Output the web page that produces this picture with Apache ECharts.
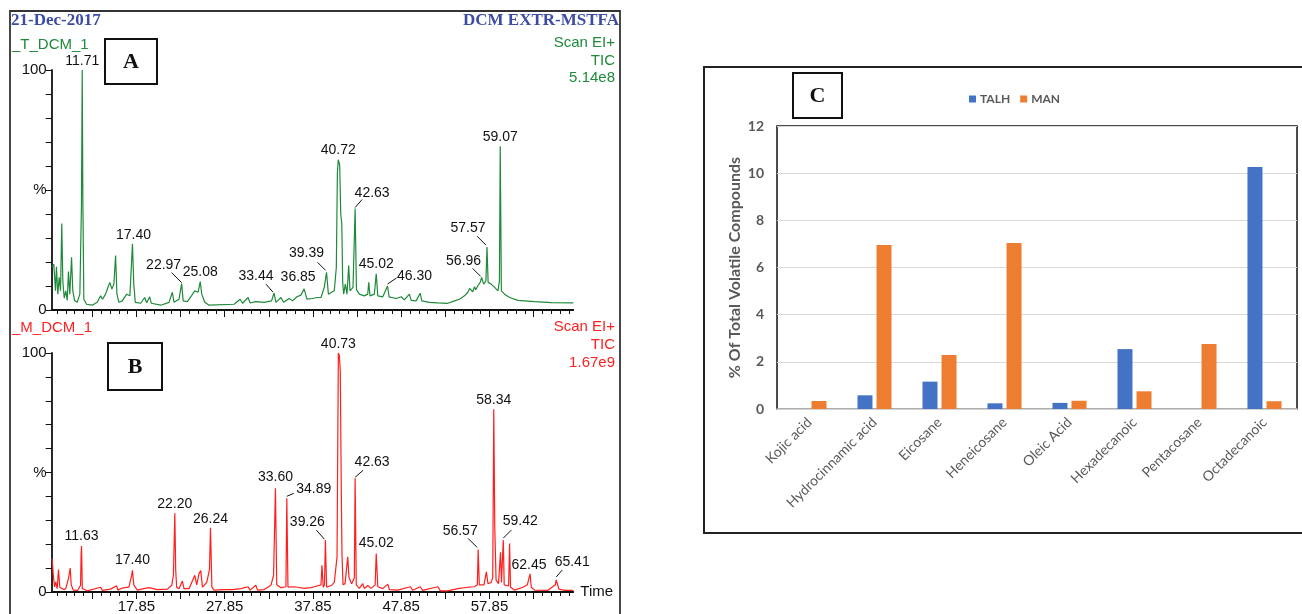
<!DOCTYPE html>
<html>
<head>
<meta charset="utf-8">
<title>GC-MS chromatograms and volatile compounds</title>
<script src="https://cdn.jsdelivr.net/npm/echarts@6/dist/echarts.min.js"></script>
<style>
  html, body { margin: 0; padding: 0; background: #fff; }
  #chart { width: 1302px; height: 614px; }
</style>
</head>
<body>
<div id="chart"></div>
<script>
// chromatogram A (TALH extract), retention time (min) / relative intensity (%)
const timeA = [8.30, 8.49, 8.68, 8.79, 8.94, 9.10, 9.25, 9.39, 9.51, 9.67, 9.85, 10.01, 10.15, 10.30, 10.50, 10.64, 10.84, 11.14, 11.44, 11.62, 11.71, 11.78, 11.89, 12.20, 12.84, 13.41, 13.79, 14.01, 14.35, 14.62, 14.84, 15.07, 15.30, 15.49, 15.64, 15.86, 16.25, 16.74, 17.11, 17.30, 17.40, 17.55, 17.72, 18.33, 18.78, 19.01, 19.35, 19.54, 20.60, 21.54, 21.92, 22.11, 22.68, 22.97, 23.15, 23.62, 24.08, 24.46, 24.84, 25.08, 25.25, 25.59, 26.08, 28.92, 29.60, 29.87, 30.51, 30.73, 31.38, 32.32, 33.16, 33.44, 33.66, 34.22, 34.52, 35.16, 35.55, 36.03, 36.49, 36.85, 37.17, 37.82, 38.30, 38.76, 39.13, 39.39, 39.60, 39.97, 40.27, 40.50, 40.62, 40.72, 40.88, 41.00, 41.12, 41.22, 41.33, 41.52, 41.71, 41.90, 42.05, 42.39, 42.63, 42.78, 43.11, 43.67, 44.06, 44.17, 44.32, 44.81, 45.02, 45.20, 45.76, 46.30, 46.48, 47.27, 47.84, 48.21, 48.78, 48.98, 49.54, 50.00, 50.19, 51.05, 52.00, 53.14, 53.89, 54.46, 55.02, 55.41, 55.60, 55.78, 55.95, 56.16, 56.30, 56.54, 56.80, 56.96, 57.20, 57.45, 57.57, 57.70, 58.05, 58.43, 58.81, 58.98, 59.07, 59.20, 59.56, 60.13, 61.08, 62.97, 64.87, 67.35];
const intensityA = [18, 19, 8, 18, 6.6, 13.6, 8, 36, 12, 5, 8, 4, 16, 6.6, 22, 8, 4, 3.2, 6.6, 43, 100, 46, 4.5, 2.4, 2, 3.2, 5.9, 4.5, 6.6, 9.4, 11.5, 8.7, 10.8, 22.7, 6.6, 3.2, 3.8, 6.6, 5.9, 20, 27.6, 10.8, 3.2, 2.8, 5.2, 3, 5.5, 2.8, 2, 3.2, 7.4, 3.2, 4.5, 11, 3.8, 3.5, 5.9, 8, 7.4, 11.8, 6.6, 3.2, 2, 2.4, 4.5, 2.8, 5.2, 2.9, 3.5, 3.2, 3.8, 7, 3.2, 5.2, 3.2, 4.8, 3.8, 5.5, 6.2, 8.8, 4.5, 4.8, 5.2, 5.2, 9.4, 15.7, 6.6, 7.4, 8, 17.8, 57, 62.6, 60.5, 40, 36, 11.5, 6.6, 10.8, 6.6, 18.5, 8, 9.4, 42.3, 8.5, 6.6, 5.9, 6.6, 11.5, 5.9, 6.6, 15.1, 5.9, 5.5, 10, 5.5, 4.8, 5.5, 4.2, 6.6, 4, 3.8, 7, 3.8, 3.2, 3, 2.8, 3.8, 4.5, 5.9, 7.4, 9, 8.7, 7.6, 9.7, 8.4, 10.1, 11.5, 13.6, 10.8, 12.2, 26.2, 11.5, 10.8, 9.4, 8, 12, 68.2, 8, 6.6, 5.2, 4, 3.5, 3.1, 3];

// chromatogram B (MAN extract)
const timeB = [8.30, 8.42, 8.57, 8.71, 8.87, 9.02, 9.17, 9.36, 9.62, 9.85, 10.15, 10.35, 10.46, 10.69, 11.21, 11.52, 11.58, 11.63, 11.72, 12.27, 13.79, 13.98, 14.92, 15.60, 15.75, 16.14, 16.51, 17.00, 17.31, 17.40, 17.55, 17.95, 18.70, 19.27, 20.22, 21.36, 21.85, 22.04, 22.20, 22.30, 22.41, 22.67, 23.06, 23.24, 23.81, 24.46, 24.68, 24.94, 25.14, 25.33, 25.82, 26.13, 26.24, 26.40, 26.65, 27.78, 28.73, 29.68, 30.51, 30.73, 31.38, 31.57, 32.32, 33.09, 33.39, 33.60, 33.75, 34.22, 34.79, 34.89, 35.02, 35.73, 36.11, 36.86, 37.63, 38.00, 38.76, 38.87, 39.02, 39.16, 39.26, 39.40, 39.97, 40.27, 40.58, 40.73, 40.84, 40.95, 41.06, 41.14, 41.26, 41.49, 41.79, 41.94, 42.24, 42.54, 42.63, 42.76, 43.11, 43.49, 43.67, 44.06, 44.43, 44.90, 45.02, 45.20, 45.76, 46.33, 46.51, 47.46, 48.89, 49.16, 50.00, 50.29, 52.00, 52.30, 53.14, 54.27, 55.41, 56.16, 56.48, 56.57, 56.70, 57.23, 57.50, 57.68, 58.05, 58.22, 58.34, 58.45, 58.60, 58.88, 59.10, 59.21, 59.42, 59.52, 60.02, 60.13, 60.24, 60.69, 61.64, 62.14, 62.45, 62.59, 62.97, 64.49, 65.32, 65.41, 65.73, 66.37, 67.35];
const intensityB = [14, 7.7, 2.1, 4.2, 1.4, 9.4, 2, 1.5, 1, 1.5, 5.6, 10, 3, 0.8, 0.7, 2.8, 15.4, 19.2, 1.5, 0.5, 2, 0.7, 1.2, 2.6, 0.8, 1.5, 1.8, 2, 7, 9.1, 3, 0.8, 1.4, 1.8, 1, 1.2, 2.8, 7, 32.9, 9.1, 2, 1.4, 4.6, 1.4, 1.4, 7, 3, 7.7, 9, 2, 4, 9.5, 26.9, 2, 0.8, 1, 1, 1.4, 2.2, 0.8, 2.8, 0.8, 1, 2.8, 7, 43.4, 3, 1.8, 2.2, 39.2, 2, 2.2, 2, 1.5, 1.8, 2.2, 3, 11.2, 2, 3, 21.7, 2, 2.8, 4, 14.7, 100, 99, 92.3, 42.7, 16.1, 3, 3.5, 14.7, 6, 3.5, 6, 47.6, 3, 1.5, 3.5, 1.5, 2.7, 1.5, 3, 16.1, 2.2, 1.4, 3.3, 1, 0.8, 2.2, 0.7, 2.2, 0.7, 2.2, 0.5, 0.5, 1.4, 2, 2.2, 3, 17.8, 3, 3, 8.4, 3.5, 4, 6, 76.5, 27.3, 5, 3.5, 16.6, 4, 21.7, 3, 2.5, 20.3, 2, 0.8, 2, 3, 7.6, 2, 0.8, 0.7, 3, 5, 1.2, 0.7, 0.7];

// labelled peaks (retention times)
const peaksA = [11.71, 17.40, 22.97, 25.08, 33.44, 36.85, 39.39, 40.72, 42.63, 45.02, 46.30, 56.96, 57.57, 59.07];
const peaksB = [11.63, 17.40, 22.20, 26.24, 33.60, 34.89, 39.26, 40.73, 42.63, 45.02, 56.57, 58.34, 59.42, 62.45, 65.41];
const timeTickLabels = [17.85, 27.85, 37.85, 47.85, 57.85];

// bar chart C
const compounds = ['Kojic acid', 'Hydrocinnamic acid', 'Eicosane', 'Heneicosane', 'Oleic Acid', 'Hexadecanoic', 'Pentacosane', 'Octadecanoic'];
const talh = [0, 0.58, 1.16, 0.24, 0.26, 2.54, 0, 10.26];
const man = [0.34, 6.95, 2.29, 7.04, 0.35, 0.75, 2.76, 0.33];

// label placement (px from peak apex): text dx, dy, then optional leader x1, y1, x2, y2
const labelPosA = [
  [0, -9], [1, -9], [-18, -18, 0, -1, -10, -11], [0, -10], [-18, -17, -1, -1, -8, -9],
  [-6, -12], [-20, -19, -1, -2, -9, -10], [0, -10], [17, -15, 0, -1, 7, -9], [0, -10],
  [27, -10, 0, -2, 9, -8], [-18, -16, -1, -1, -9, -9], [-19, -19, -1, -2, -10, -11], [0, -9]
];
const labelPosB = [
  [0, -10], [0, -10], [0, -9], [0, -9], [0, -11], [27, -9, 0, -2, 7, -5],
  [-18, -18, -1, -1, -9, -10], [0, -9], [17, -16, 0, -1, 8, -8], [0, -10],
  [-18, -18, -1, -2, -10, -11], [0, -9], [17, -19, 0, -2, 8, -10], [-1, -9], [16, -18, 0, -3, 6, -10]
];

const GREEN = '#1f8a3a';
const RED = '#ff1f1f';
const BLUE_T = '#3b4ba6';
const SANS = '"Liberation Sans", Arial, sans-serif';
const SERIF = '"Liberation Serif", "Times New Roman", serif';
const GREY = '#595959';

const tMin = 8.25, tMax = 67.35;
const minorTicks = [];
for (let v = 8.85; v < tMax; v += 1) minorTicks.push(+v.toFixed(2));
const majorTicks = minorTicks.filter(v => Math.round((v - 2.85) * 100) % 500 === 0);

function timeAxes(gridIndex, withLabels) {
  const base = {
    type: 'value', gridIndex: gridIndex, min: tMin, max: tMax, position: 'bottom',
    splitLine: { show: false }
  };
  return [
    Object.assign({}, base, {
      axisLine: { lineStyle: { color: '#111', width: 1.8 } },
      axisTick: { customValues: minorTicks, length: 4, lineStyle: { color: '#111', width: 1 } },
      axisLabel: { show: false },
      name: withLabels ? 'Time' : '',
      nameLocation: 'end', nameGap: 7,
      nameTextStyle: { fontFamily: SANS, fontSize: 15, color: '#111' }
    }),
    Object.assign({}, base, {
      axisLine: { show: false },
      axisTick: { customValues: majorTicks, length: 7, lineStyle: { color: '#111', width: 1 } },
      axisLabel: {
        show: withLabels, customValues: timeTickLabels, margin: 7,
        formatter: v => v.toFixed(2),
        fontFamily: SANS, fontSize: 15, color: '#111'
      }
    })
  ];
}

function pctAxis(gridIndex) {
  return {
    type: 'value', gridIndex: gridIndex, min: 0, max: 100, interval: 10,
    axisLine: { show: true, lineStyle: { color: '#111', width: 1.8 } },
    axisTick: { show: true, length: 6, lineStyle: { color: '#111' } },
    axisLabel: {
      margin: 5, fontFamily: SANS, fontSize: 15, color: '#111',
      formatter: v => (v === 100 ? '100' : v === 50 ? '%' : v === 0 ? '0' : '')
    },
    splitLine: { show: false }
  };
}

function traceSeries(t, y, color, xIdx, yIdx) {
  return {
    type: 'line', xAxisIndex: xIdx, yAxisIndex: yIdx,
    data: t.map((v, i) => [v, y[i]]),
    showSymbol: false, symbol: 'none',
    lineStyle: { color: color, width: 1.2 },
    silent: true
  };
}

function peakLabels(peaks, t, y, pos, xIdx, yIdx) {
  return {
    type: 'custom', xAxisIndex: xIdx, yAxisIndex: yIdx, clip: false, silent: true, z: 5,
    data: peaks.map(p => [p, y[t.indexOf(p)]]),
    renderItem: function (params, api) {
      const pt = api.coord([api.value(0), api.value(1)]);
      const o = pos[params.dataIndex];
      const kids = [{
        type: 'text', x: pt[0] + o[0], y: pt[1] + o[1],
        style: {
          text: api.value(0).toFixed(2), align: 'center', verticalAlign: 'middle',
          fill: '#111', font: '14px ' + SANS
        }
      }];
      if (o.length > 2) {
        kids.push({
          type: 'line',
          shape: { x1: pt[0] + o[2], y1: pt[1] + o[3], x2: pt[0] + o[4], y2: pt[1] + o[5] },
          style: { stroke: '#111', lineWidth: 1 }
        });
      }
      return { type: 'group', children: kids };
    }
  };
}

function textEl(x, y, str, font, fill, align) {
  return {
    type: 'text', x: x, y: y, silent: true,
    style: { text: str, font: font, fill: fill, align: align || 'left', verticalAlign: 'middle' }
  };
}

function letterBox(x, y, w, h, letter) {
  return [
    { type: 'rect', shape: { x: x, y: y, width: w, height: h }, style: { fill: '#fff', stroke: '#111', lineWidth: 2 }, z: 10 },
    Object.assign(textEl(x + w / 2, y + h / 2 + 1, letter, 'bold 22px ' + SERIF, '#111', 'center'), { z: 11 })
  ];
}

const chart = echarts.init(document.getElementById('chart'));

chart.setOption({
  animation: false,
  backgroundColor: '#fff',
  grid: [
    { left: 51.7, top: 70, width: 521.6, height: 240 },
    { left: 51.7, top: 353, width: 521.6, height: 240 },
    { left: 777, top: 126, width: 520, height: 283, show: true, borderColor: '#111', borderWidth: 1.5 }
  ],
  xAxis: [
    ...timeAxes(0, false),
    ...timeAxes(1, true),
    {
      type: 'category', gridIndex: 2, data: compounds,
      axisTick: { show: false },
      axisLine: { lineStyle: { color: '#d0d0d0', width: 1.5 } },
      axisLabel: { interval: 0, rotate: 45, margin: 11, color: GREY, fontFamily: 'Lato, sans-serif', fontSize: 14 }
    }
  ],
  yAxis: [
    pctAxis(0),
    pctAxis(1),
    {
      type: 'value', gridIndex: 2, min: 0, max: 12, interval: 2,
      axisLine: { show: false }, axisTick: { show: false },
      axisLabel: { margin: 13, color: GREY, fontFamily: 'Lato, sans-serif', fontSize: 14, fontWeight: 'bold' },
      splitLine: { lineStyle: { color: '#d9d9d9', width: 1 } },
      name: '% Of Total Volatile Compounds',
      nameLocation: 'middle', nameGap: 34,
      nameTextStyle: { color: GREY, fontFamily: 'Lato, sans-serif', fontSize: 16, fontWeight: 'bold' }
    }
  ],
  legend: {
    data: ['TALH', 'MAN'],
    left: 964, top: 88,
    icon: 'rect', itemWidth: 7, itemHeight: 7, itemGap: 10,
    textStyle: { color: GREY, fontFamily: 'Lato, sans-serif', fontSize: 12, fontWeight: 'bold', padding: [0, 0, 0, -1] }
  },
  series: [
    traceSeries(timeA, intensityA, GREEN, 0, 0),
    traceSeries(timeB, intensityB, RED, 2, 1),
    peakLabels(peaksA, timeA, intensityA, labelPosA, 0, 0),
    peakLabels(peaksB, timeB, intensityB, labelPosB, 2, 1),
    {
      name: 'TALH', type: 'bar', xAxisIndex: 4, yAxisIndex: 2, data: talh,
      barWidth: 15, barGap: '27%', itemStyle: { color: '#4472c4' }
    },
    {
      name: 'MAN', type: 'bar', xAxisIndex: 4, yAxisIndex: 2, data: man,
      barWidth: 15, barGap: '27%', itemStyle: { color: '#ed7d31' }
    }
  ],
  graphic: [
    // outer frames
    { type: 'polyline', shape: { points: [[10, 620], [10, 11], [620, 11], [620, 620]] }, style: { fill: null, stroke: '#333', lineWidth: 1.8 }, silent: true },
    { type: 'rect', shape: { x: 704, y: 67, width: 610, height: 466 }, style: { fill: null, stroke: '#222', lineWidth: 2 }, silent: true },
    // header of panel A
    textEl(11, 21, '21-Dec-2017', 'bold 17px ' + SERIF, BLUE_T),
    textEl(619, 21, 'DCM EXTR-MSTFA', 'bold 17px ' + SERIF, BLUE_T, 'right'),
    textEl(12, 45, '_T_DCM_1', '15px ' + SANS, GREEN),
    textEl(615, 43, 'Scan EI+', '15px ' + SANS, GREEN, 'right'),
    textEl(615, 60.5, 'TIC', '15px ' + SANS, GREEN, 'right'),
    textEl(615, 78, '5.14e8', '15px ' + SANS, GREEN, 'right'),
    // header of panel B
    textEl(12, 328, '_M_DCM_1', '15px ' + SANS, RED),
    textEl(615, 327, 'Scan EI+', '15px ' + SANS, RED, 'right'),
    textEl(615, 345, 'TIC', '15px ' + SANS, RED, 'right'),
    textEl(615, 363, '1.67e9', '15px ' + SANS, RED, 'right'),
    ...letterBox(105, 39, 52, 45, 'A'),
    ...letterBox(108, 343, 54, 47, 'B'),
    ...letterBox(793, 73, 49, 45, 'C')
  ]
});
</script>
</body>
</html>
